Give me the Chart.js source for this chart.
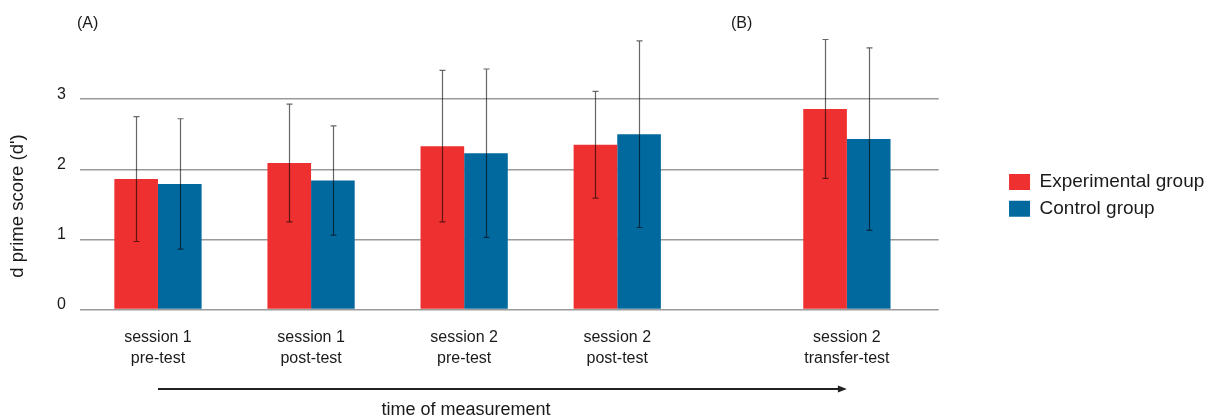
<!DOCTYPE html>
<html><head><meta charset="utf-8">
<script src="https://cdn.jsdelivr.net/npm/chart.js@4.4.1/dist/chart.umd.min.js"></script>
<style>html,body{margin:0;padding:0;background:#fff;overflow:hidden}#wrap{width:1220px;height:419px;position:relative}</style>
</head><body><div id="wrap"><canvas id="c" width="1220" height="419"></canvas></div>
<script>
// ---- data ----
const categories = [['session 1','pre-test'],['session 1','post-test'],['session 2','pre-test'],['session 2','post-test'],['session 2','transfer-test']];
const seriesNames = ['Experimental group','Control group'];
const experimentalMeans = [1.86, 2.09, 2.33, 2.35, 2.86];
const experimentalErrors = [0.89, 0.84, 1.08, 0.76, 0.99];
const controlMeans = [1.79, 1.84, 2.23, 2.50, 2.43];
const controlErrors = [0.93, 0.78, 1.20, 1.33, 1.30];
const yTicks = [0, 1, 2, 3];
const panelLabels = ['(A)', '(B)'];
const yTitle = "d prime score (d')";
const xTitle = 'time of measurement';

// ---- layout helpers ----
const FONT = "'Liberation Sans', Arial, Helvetica, sans-serif";
const panelBStart = 4;                 // panel (B) is set apart by half a slot
const slots = categories.map((c, i) => i + (i >= panelBStart ? 0.5 : 0));
const errs = [experimentalErrors, controlErrors];

const extras = {
  id: 'extras',
  afterDatasetsDraw(chart) {
    const ctx = chart.ctx, ys = chart.scales.y;
    ctx.save();
    ctx.strokeStyle = 'rgba(0,0,0,0.6)';
    ctx.lineWidth = 1.2;
    chart.data.datasets.forEach((ds, di) => {
      const meta = chart.getDatasetMeta(di);
      meta.data.forEach((el, j) => {
        const m = ds.data[j].y, e = errs[di][j];
        const x = Math.round(el.x) + 0.5;
        const t = ys.getPixelForValue(m + e), b = ys.getPixelForValue(m - e);
        ctx.beginPath();
        ctx.moveTo(x, t); ctx.lineTo(x, b);
        ctx.moveTo(x - 3, t); ctx.lineTo(x + 3, t);
        ctx.moveTo(x - 3, b); ctx.lineTo(x + 3, b);
        ctx.stroke();
      });
    });
    ctx.restore();
  },
  afterDraw(chart) {
    const ctx = chart.ctx, xs = chart.scales.x;
    ctx.save();
    ctx.fillStyle = '#1a1a1a';
    ctx.font = '16px ' + FONT;
    ctx.textBaseline = 'middle';
    ctx.textAlign = 'left';
    ctx.fillText(panelLabels[0], 77, 24);
    ctx.fillText(panelLabels[1], 731, 24);
    // y title
    ctx.save();
    ctx.translate(18, 206);
    ctx.rotate(-Math.PI / 2);
    ctx.textAlign = 'center';
    ctx.font = '18.5px ' + FONT;
    ctx.fillText(yTitle, 0, 0);
    ctx.restore();
    // arrow along time
    const x0 = xs.getPixelForValue(slots[0]);
    const x1 = xs.getPixelForValue(slots[slots.length - 1]);
    const ay = 389;
    ctx.strokeStyle = '#222';
    ctx.lineWidth = 1.8;
    ctx.beginPath(); ctx.moveTo(x0, ay); ctx.lineTo(x1 - 6, ay); ctx.stroke();
    ctx.beginPath(); ctx.moveTo(x1, ay); ctx.lineTo(x1 - 9, ay - 3.5); ctx.lineTo(x1 - 9, ay + 3.5); ctx.closePath();
    ctx.fillStyle = '#222'; ctx.fill();
    // x title
    ctx.fillStyle = '#1a1a1a';
    ctx.textAlign = 'center';
    ctx.font = '18px ' + FONT;
    ctx.fillText(xTitle, 466, 410);
    ctx.restore();
  }
};

new Chart(document.getElementById('c'), {
  type: 'bar',
  data: {
    datasets: [
      { label: seriesNames[0], data: slots.map((x, i) => ({ x, y: experimentalMeans[i] })), backgroundColor: '#EE3130', borderWidth: 0 },
      { label: seriesNames[1], data: slots.map((x, i) => ({ x, y: controlMeans[i] })), backgroundColor: '#02699F', borderWidth: 0 }
    ]
  },
  options: {
    responsive: false,
    animation: false,
    devicePixelRatio: 1,
    categoryPercentage: 0.57,
    barPercentage: 1,
    layout: { padding: { left: 43, top: 29, bottom: 31.9, right: 5.7 } },
    plugins: {
      legend: {
        position: 'right', align: 'center', fullSize: false, maxWidth: 320,
        title: { display: true, text: ' ', font: { size: 12 }, padding: 18.9 },
        labels: { boxWidth: 21, boxHeight: 16, padding: 7.7, color: '#1a1a1a', font: { size: 19, family: FONT } }
      },
      tooltip: { enabled: false }
    },
    scales: {
      x: {
        type: 'linear', min: -0.51, max: 5.1, offset: false,
        grid: { display: false, drawTicks: false }, border: { display: false },
        afterBuildTicks: s => { s.ticks = slots.map(v => ({ value: v })); },
        ticks: {
          autoSkip: false, maxRotation: 0, minRotation: 0, padding: 18.3, color: '#1a1a1a',
          font: { size: 16, family: FONT, lineHeight: 1.28 },
          callback: (v, i) => categories[i]
        }
      },
      y: {
        min: 0, max: 4,
        afterBuildTicks: s => { s.ticks = yTicks.map(v => ({ value: v })); },
        grid: { color: '#9a9a9a', lineWidth: 1.5, drawTicks: false },
        border: { display: false },
        ticks: { padding: 14, labelOffset: -5, color: '#1a1a1a', font: { size: 16, family: FONT } }
      },
      gap: {
        type: 'linear', position: 'right', display: true,
        grid: { display: false, drawTicks: false }, border: { display: false },
        ticks: { display: false },
        afterFit: s => { s.width = 62.6; }
      }
    }
  },
  plugins: [extras]
});
</script></body></html>
